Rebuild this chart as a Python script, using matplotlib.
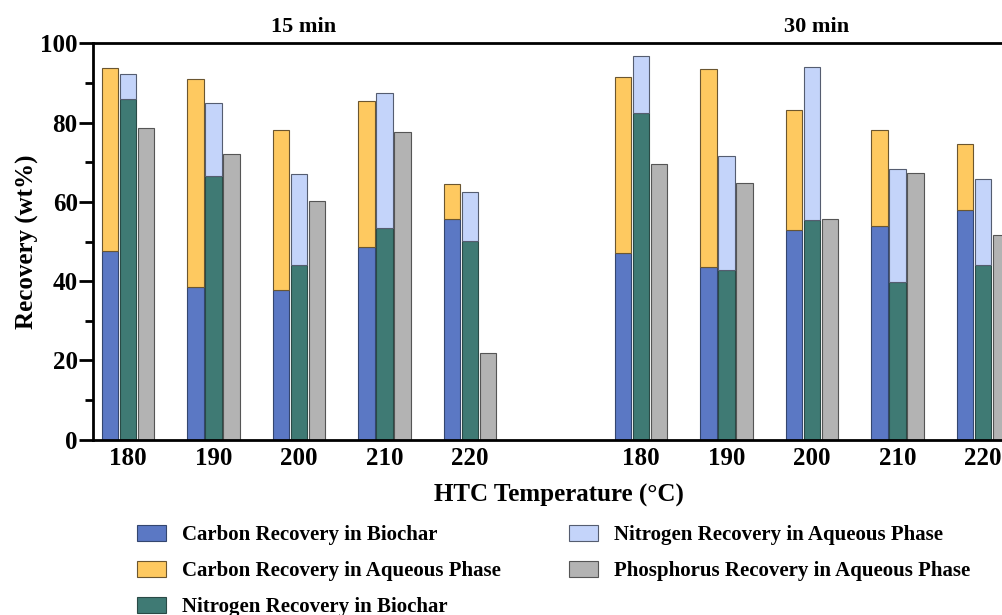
import numpy as np
import matplotlib.pyplot as plt

plt.rcParams['font.family'] = ['Liberation Serif', 'DejaVu Serif']
plt.rcParams['font.weight'] = 'bold'
plt.rcParams['axes.labelweight'] = 'bold'

temps = ["180", "190", "200", "210", "220"]
times = ["15 min", "30 min"]

# 15 min then 30 min, one value per temperature
carbon_biochar = [47.6, 38.4, 37.8, 48.5, 55.8,
                  47.1, 43.6, 53.0, 53.9, 57.9]
carbon_total = [93.8, 91.1, 78.2, 85.5, 64.5,
                91.6, 93.6, 83.1, 78.2, 74.6]
nitrogen_biochar = [85.9, 66.5, 44.2, 53.5, 50.2,
                    82.3, 42.7, 55.4, 39.8, 44.2]
nitrogen_total = [92.2, 84.9, 67.1, 87.5, 62.6,
                  96.7, 71.6, 93.9, 68.2, 65.8]
phosphorus_aq = [78.6, 72.0, 60.1, 77.7, 21.9,
                 69.6, 64.8, 55.6, 67.3, 51.7]

carbon_aq = np.array(carbon_total) - np.array(carbon_biochar)
nitrogen_aq = np.array(nitrogen_total) - np.array(nitrogen_biochar)

x = np.concatenate([np.arange(5), np.arange(6, 11)])
w = 0.19
off = 0.21

fig = plt.figure(figsize=(10.03, 6.15), dpi=100)
ax = fig.add_axes([0.0927, 0.285, 0.930, 0.6446])

lw = 0.8
ax.bar(x - off, carbon_biochar, w, color='#5B78C4', edgecolor='#34466f', linewidth=lw,
       label='Carbon Recovery in Biochar')
ax.bar(x - off, carbon_aq, w, bottom=carbon_biochar, color='#FEC960', edgecolor='#6b5630',
       linewidth=lw, label='Carbon Recovery in Aqueous Phase')
ax.bar(x, nitrogen_biochar, w, color='#3F7A74', edgecolor='#2a4a46', linewidth=lw,
       label='Nitrogen Recovery in Biochar')
ax.bar(x, nitrogen_aq, w, bottom=nitrogen_biochar, color='#C4D4FA', edgecolor='#555d70',
       linewidth=lw, label='Nitrogen Recovery in Aqueous Phase')
ax.bar(x + off, phosphorus_aq, w, color='#B3B3B3', edgecolor='#555555', linewidth=lw,
       label='Phosphorus Recovery in Aqueous Phase')

ax.set_xlim(-0.41, 10.5)
ax.set_ylim(0, 100)
ax.set_yticks(np.arange(0, 101, 20))
ax.set_yticks(np.arange(10, 100, 20), minor=True)
ax.set_xticks(x)
ax.set_xticklabels(temps * 2)
ax.tick_params(axis='x', length=0, labelsize=18, pad=5)
ax.tick_params(axis='y', which='major', length=10, width=2, labelsize=18, pad=1)
ax.tick_params(axis='y', which='minor', length=6, width=2)
for s in ['left', 'bottom', 'top']:
    ax.spines[s].set_linewidth(2)
ax.spines['right'].set_visible(False)

for i, t in enumerate(times):
    ax.text(2.05 + 6 * i, 104, t, ha='center', va='center', fontsize=16, fontweight='bold')

ax.set_ylabel('Recovery (wt%)', fontsize=18, labelpad=1)
ax.set_xlabel('HTC Temperature (°C)', fontsize=18, labelpad=10)

fig.legend(loc='upper left', bbox_to_anchor=(0.128, 0.16), ncol=2, frameon=False,
           fontsize=15, handlelength=1.4, handleheight=0.8, handletextpad=0.75,
           columnspacing=3.3, labelspacing=0.75, borderaxespad=0)

fig.savefig('out.png', dpi=100)
